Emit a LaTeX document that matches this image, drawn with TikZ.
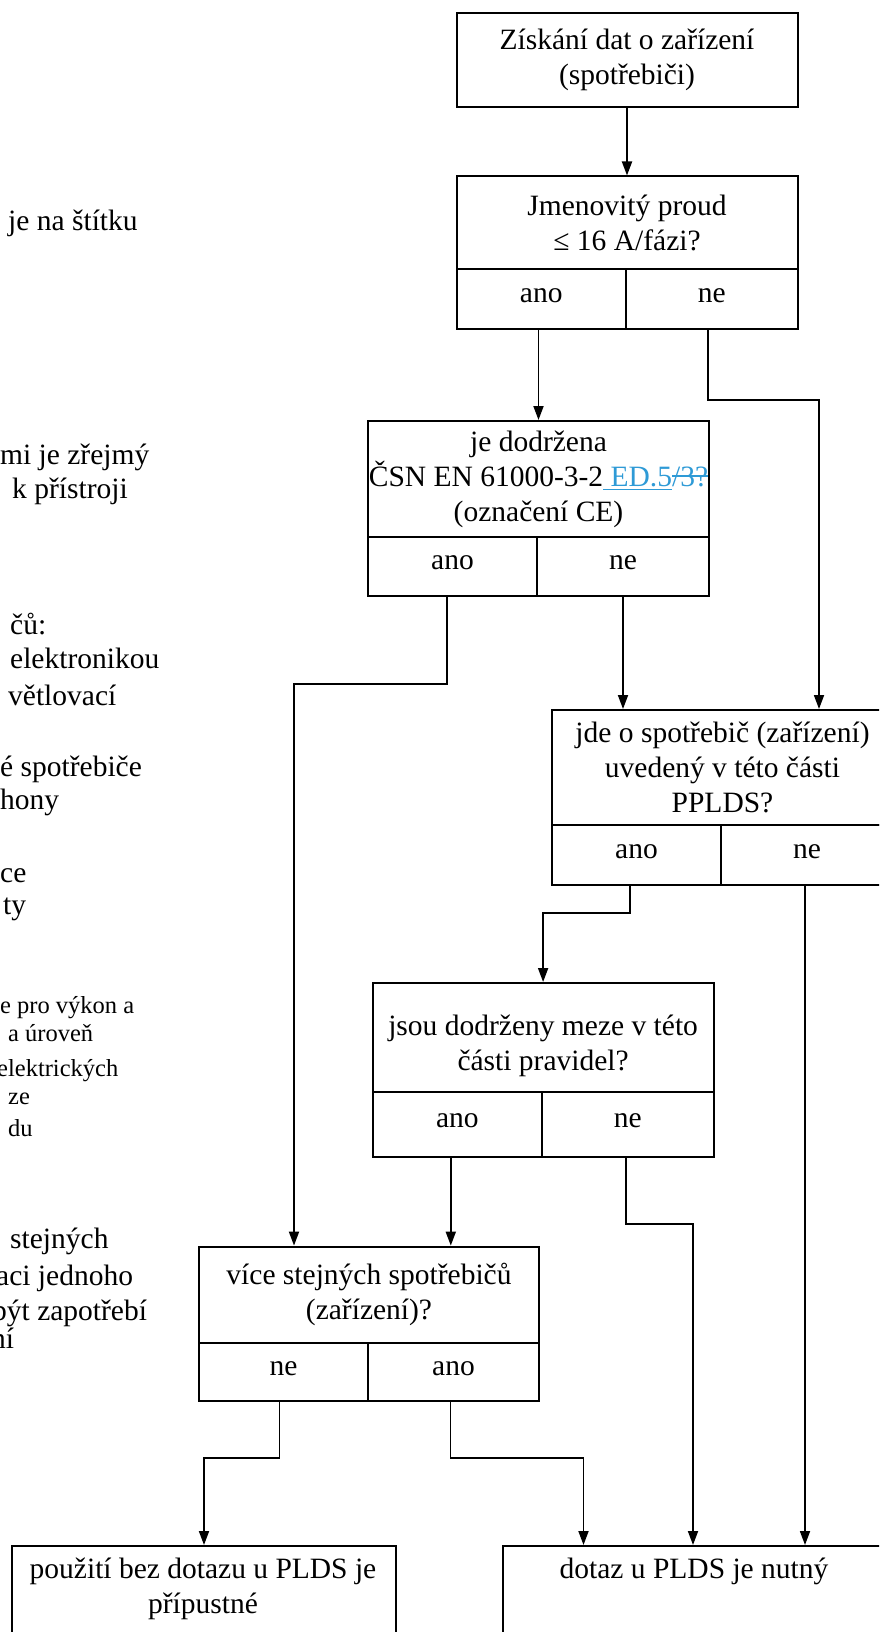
\documentclass[tikz,border=0pt]{standalone}
\usepackage{fontspec}
\setmainfont{Liberation Serif}
\usetikzlibrary{arrows.meta}
\definecolor{edblue}{HTML}{2E9AD6}
\newcommand\uln[1]{\setbox0=\hbox{#1}\leavevmode\rlap{\rule[-4pt]{\wd0}{1.3pt}}\box0}
\newcommand\strk[1]{\setbox0=\hbox{#1}\leavevmode\rlap{\rule[9.5pt]{\wd0}{1.3pt}}\box0}
\tikzset{box/.style = {draw, line width=2pt, inner sep=0pt, align=center,
                       anchor=north west},
         cell/.style = {box, text height=15pt, text depth=9pt},
         note/.style = {inner sep=0pt, anchor=base west},
         smallnote/.style = {note, font=\fontsize{24.5}{29}\selectfont},
         link/.style = {line width=1.8pt, -{Triangle[length=14pt,width=10pt]}}}

\begin{document}
\begin{tikzpicture}[x=1pt, y=-1pt, font=\fontsize{29.5}{35}\selectfont]
    \useasboundingbox (0,0) rectangle (879,1632);
    \clip (0,0) rectangle (879,1632);

    % cut-off notes on the left
    \foreach \x/\y/\t [count=\i] in {8/230/{je na štítku}, 0/464/{mi je zřejmý},
        12/498/{k přístroji}, 10/634/{čů:}, 10/668/{elektronikou},
        8/705/{větlovací}, 0/776/{é spotřebiče}, 0/809/{hony}, 0/882/{ce},
        3/914/{ty}, 10/1248/{stejných}, -4/1285/{aci jednoho},
        -8/1320/{být zapotřebí}, -9/1348/{ní}}
      \node[note] (note\i) at (\x,\y) {\t};
    \foreach \x/\y/\t [count=\i] in {0/1013/{e pro výkon a}, 8/1041/{a úroveň},
        -3/1076/{elektrických}, 8/1104/{ze}, 8/1136/{du}}
      \node[smallnote] (small\i) at (\x,\y) {\t};

    % boxes
    \node[box, minimum width=341pt, minimum height=93.5pt] (b1) at (455.5,12.5)
      {Získání dat o zařízení\\(spotřebiči)};

    \node[box, minimum width=341pt, minimum height=92.5pt] (b2) at (455.5,175.5)
      {Jmenovitý proud\\≤ 16 A/fázi?};
    \node[cell, minimum width=169.5pt, minimum height=60pt] (b2ano) at (455.5,268) {ano};
    \node[cell, minimum width=171.5pt, minimum height=60pt] (b2ne) at (625,268) {ne};

    \node[box, minimum width=341pt, minimum height=116pt] (b3) at (367,420)
      {je dodržena\\ČSN EN 61000-3-2\textcolor{edblue}{\uln{\ ED.5}\strk{/3?}}\\(označení CE)};
    \node[cell, minimum width=169pt, minimum height=59pt] (b3ano) at (367,536) {ano};
    \node[cell, minimum width=172pt, minimum height=59pt] (b3ne) at (536,536) {ne};

    \node[box, minimum width=341pt, minimum height=115.3pt] (b4) at (551,709)
      {jde o spotřebič (zařízení)\\uvedený v této části\\PPLDS?};
    \node[cell, minimum width=169pt, minimum height=59.7pt] (b4ano) at (551,824.3) {ano};
    \node[cell, minimum width=172pt, minimum height=59.7pt] (b4ne) at (720,824.3) {ne};

    \node[box, minimum width=341pt, minimum height=109pt] (b5) at (371.6,982) {};
    \node[align=center, inner sep=0pt] (t5) at ([yshift=-8pt]b5.center)
      {jsou dodrženy meze v této\\části pravidel?};
    \node[cell, minimum width=169.4pt, minimum height=65pt] (b5ano) at (371.6,1091) {ano};
    \node[cell, minimum width=171.6pt, minimum height=65pt] (b5ne) at (541,1091) {ne};

    \node[box, minimum width=340pt, minimum height=96.4pt] (b6) at (198,1245.6)
      {více stejných spotřebičů\\(zařízení)?};
    \node[cell, minimum width=169pt, minimum height=58pt] (b6ne) at (198,1342) {ne};
    \node[cell, minimum width=171pt, minimum height=58pt] (b6ano) at (367,1342) {ano};

    \node[box, minimum width=384pt, minimum height=150pt] (b7) at (11,1545) {};
    \node[anchor=base, inner sep=0pt] (t7a) at (203,1578) {použití bez dotazu u PLDS je};
    \node[anchor=base, inner sep=0pt] (t7b) at (203,1613) {přípustné};
    \node[box, minimum width=384pt, minimum height=150pt] (b8) at (502,1545) {};
    \node[anchor=base, inner sep=0pt] (t8) at (694,1578) {dotaz u PLDS je nutný};

    % connectors
    \draw[link] (b1.south) -- (b2.north);
    \draw[link] (b3.north |- b2ano.south) -- (b3.north);
    \draw[link] ([xshift=-4pt]b2ne.south) -- ++(0,69.7) -| ([xshift=96.5pt]b4.north);
    \draw[link] ([xshift=-5.5pt]b3ano.south) -- ++(0,87) -| ([xshift=-75pt]b6.north);
    \draw[link] (b3ne.south) -- (b3ne.south |- b4.north);
    \draw[link] ([xshift=-6.5pt]b4ano.south) -- ++(0,27) -| (b5.north);
    \draw[link] ([xshift=-2pt]b4ne.south) -- ([xshift=-2pt]b4ne.south |- b8.north);
    \draw[link] ([xshift=-6.5pt]b5ano.south) -- ([xshift=-6.5pt]b5ano.south |- b6.north);
    \draw[link] ([xshift=-2pt]b5ne.south) -- ++(0,66) -| ([xshift=-2pt]b8.north);
    \draw[link] ([xshift=-4pt]b6ne.south) -- ++(0,55.7) -| (b7.north);
    \draw[link] ([xshift=-3pt]b6ano.south) -- ++(0,55.7) -| ([xshift=-111.5pt]b8.north);
\end{tikzpicture}
\end{document}
